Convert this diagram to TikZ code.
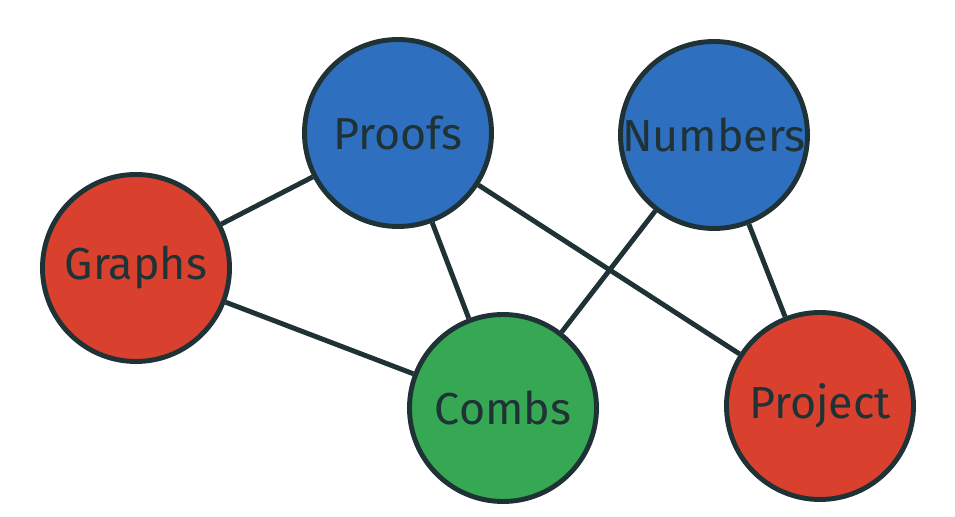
\documentclass[tikz,border=0pt]{standalone}
\usepackage{fontspec}
\setmainfont{Fira Sans}
\definecolor{rimcol}{HTML}{1F3236}
\definecolor{bluecol}{HTML}{2F6FBF}
\definecolor{redcol}{HTML}{D9412E}
\definecolor{greencol}{HTML}{36A853}
\tikzset{
	topic/.style={circle, draw=rimcol, line width=2.8pt, minimum size=3.74cm, inner sep=0pt,
		text=rimcol, font=\fontsize{25.5}{30}\selectfont},
	link/.style={draw=rimcol, line width=2.8pt}
}
\begin{document}
\begin{tikzpicture}
	\useasboundingbox (0, 0) rectangle (19.1, 10.34);
	%中心
	\path (7.96, 7.68) coordinate (Pc);
	\path (14.28, 7.64) coordinate (Nc);
	\path (2.72, 4.98) coordinate (Gc);
	\path (10.06, 2.18) coordinate (Cc);
	\path (16.40, 2.22) coordinate (Jc);
	%ノード
	\node[topic, fill=bluecol] (proofs) at (Pc) {Proofs};
	\node[topic, fill=bluecol] (numbers) at (Nc) {Numbers};
	\node[topic, fill=redcol] (graphs) at (Gc) {Graphs};
	\node[topic, fill=greencol] (combs) at (Cc) {Combs};
	\node[topic, fill=redcol] (project) at (Jc) {Project};
	%線
	\draw[link] (graphs)--(proofs);
	\draw[link] (graphs)--(combs);
	\draw[link] (proofs)--(combs);
	\draw[link] (proofs)--(project);
	\draw[link] (numbers)--(combs);
	\draw[link] (numbers)--(project);
\end{tikzpicture}
\end{document}
